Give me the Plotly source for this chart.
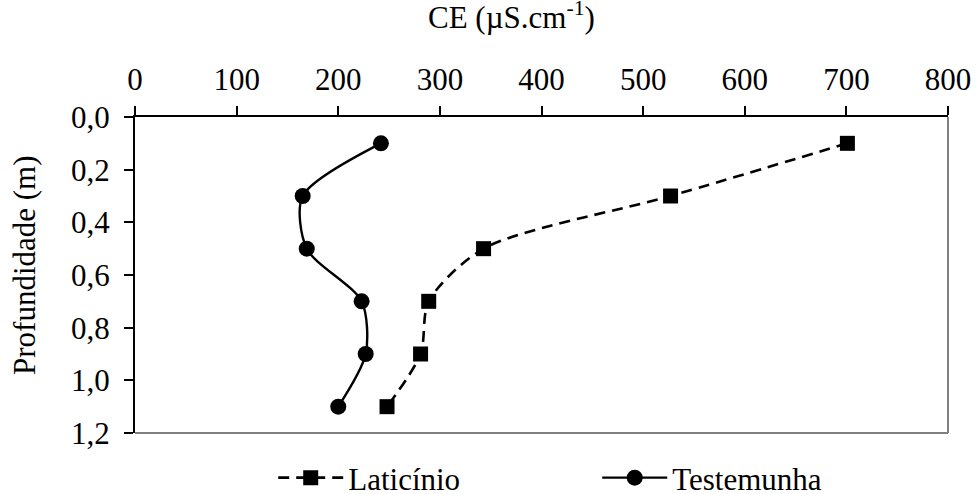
import plotly.graph_objects as go

depth = [0.1, 0.3, 0.5, 0.7, 0.9, 1.1]
laticinio = [701, 527, 343, 289, 281, 248]
testemunha = [242, 165, 169, 223, 227, 200]
x_ticks = [0, 100, 200, 300, 400, 500, 600, 700, 800]
y_ticks = [0.0, 0.2, 0.4, 0.6, 0.8, 1.0, 1.2]
y_tick_labels = ["0,0", "0,2", "0,4", "0,6", "0,8", "1,0", "1,2"]

FONT = "Liberation Serif"
FS = 31

fig = go.Figure()
fig.add_trace(go.Scatter(
    x=laticinio, y=depth, name="Laticínio", mode="lines+markers",
    line=dict(color="black", width=2.6, dash="11px,7px", shape="spline", smoothing=0.8),
    marker=dict(symbol="square", size=15, color="black"),
))
fig.add_trace(go.Scatter(
    x=testemunha, y=depth, name="Testemunha", mode="lines+markers",
    line=dict(color="black", width=2.4, shape="spline", smoothing=0.8),
    marker=dict(symbol="circle", size=16, color="black"),
))

fig.update_layout(
    width=977, height=494,
    margin=dict(l=135, r=29, t=117, b=61, autoexpand=False),
    paper_bgcolor="white", plot_bgcolor="white",
    font=dict(family=FONT, size=FS, color="black"),
    showlegend=True,
    legend=dict(orientation="h", x=0.17, xanchor="left", y=-0.057, yanchor="top",
                entrywidth=244, entrywidthmode="pixels", itemwidth=65,
                font=dict(family=FONT, size=FS, color="black")),
    xaxis=dict(side="top", range=[0, 800], tickvals=x_ticks, ticks="outside",
               ticklen=9, tickwidth=1.5, tickcolor="black", showgrid=False,
               zeroline=False, showline=True, linecolor="black", linewidth=1.5,
               ticklabelstandoff=4, automargin=False),
    yaxis=dict(range=[1.2, 0], tickvals=y_ticks, ticktext=y_tick_labels,
               ticks="outside", ticklen=9, tickwidth=1.5, tickcolor="black",
               showgrid=False, zeroline=False, showline=True, linecolor="black",
               linewidth=2, ticklabelstandoff=8, automargin=False),
    shapes=[
        dict(type="line", xref="paper", yref="paper", x0=1, x1=1, y0=0, y1=1,
             line=dict(color="black", width=1)),
        dict(type="line", xref="paper", yref="paper", x0=0, x1=1, y0=0, y1=0,
             line=dict(color="#808080", width=2)),
    ],
    annotations=[
        dict(text="CE (µS.cm<sup>-1</sup>)", xref="paper", yref="paper",
             x=0.4625, y=1.322, showarrow=False, xanchor="center", yanchor="middle",
             font=dict(family=FONT, size=FS)),
        dict(text="Profundidade (m)", xref="paper", yref="paper",
             x=-0.136, y=0.533, showarrow=False, textangle=-90,
             xanchor="center", yanchor="middle",
             font=dict(family=FONT, size=FS)),
    ],
)

fig.write_html("out.html", config={"displayModeBar": False},
               post_script="document.body.style.margin='0';")
